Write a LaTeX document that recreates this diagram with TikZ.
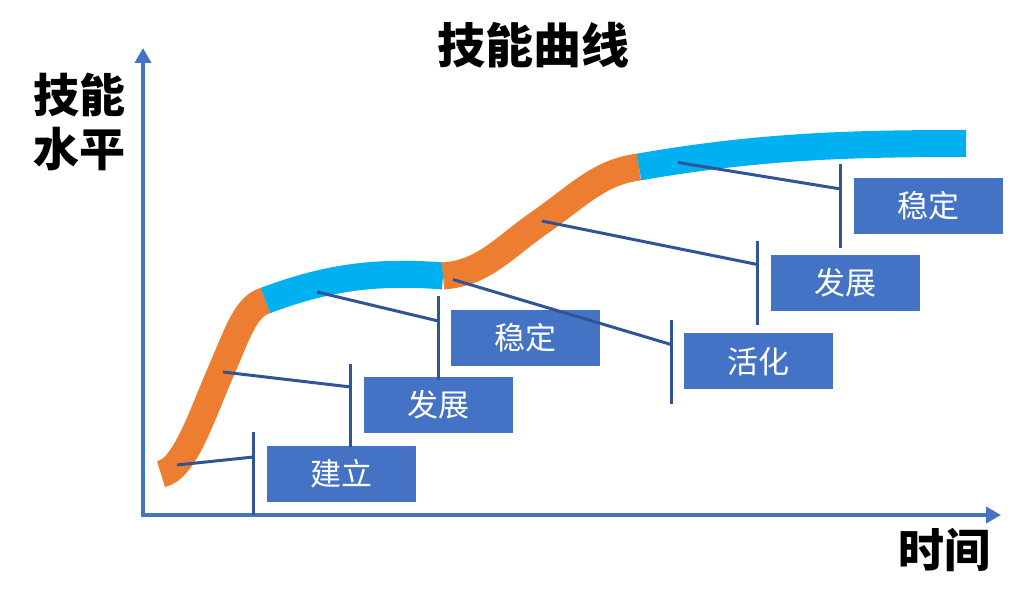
\documentclass[tikz,border=0pt]{standalone}
\usepackage{fontspec}
\newfontfamily\cjk{Noto Sans CJK SC}
\usetikzlibrary{arrows.meta}
\definecolor{axisblue}{HTML}{4472C4}
\definecolor{boxblue}{HTML}{4472C4}
\definecolor{leaderblue}{HTML}{2F5597}
\definecolor{curveorange}{HTML}{ED7D31}
\definecolor{curveblue}{HTML}{00B0F0}
\tikzset{
  axisline/.style={draw=axisblue, line width=4pt, -{Triangle[length=15pt,width=16pt]}},
  orangeseg/.style={draw=curveorange, line width=27pt, line cap=butt},
  blueseg/.style={draw=curveblue, line width=27pt, line cap=butt},
  leader/.style={draw=leaderblue, line width=3pt},
  stagebox/.style={fill=boxblue, draw=none, minimum width=149pt, minimum height=56pt, inner sep=0pt, text=white, font=\cjk\fontsize{31}{31}\selectfont},
  bigtext/.style={font=\cjk\bfseries\fontsize{46}{50}\selectfont, text=black, inner sep=0pt}
}
\begin{document}
\begin{tikzpicture}[x=1pt,y=-1pt]
\useasboundingbox[fill=white] (0,0) rectangle (1024,609);
% title and axis labels
\node[bigtext, font=\cjk\bfseries\fontsize{48}{50}\selectfont] (title) at (533,45) {技能曲线};
\node[bigtext, align=center] (ylab) at (79,122) {技能\\[4pt]水平};
\node[bigtext] (xlab) at (944,550) {时间};
% axes
\coordinate (origin) at (141,515);
\coordinate (ytip) at (143,48);
\coordinate (xtip) at (1001,515);
\draw[axisline] (143,517) -- (ytip);
\draw[axisline] (141,515) -- (xtip);
% curve
\coordinate (c0) at (161,474);
\coordinate (c1) at (265.5,300.5);
\coordinate (c2) at (443,276);
\coordinate (c3) at (639,167);
\coordinate (c4) at (966,143.5);
\draw[orangeseg] (c0) .. controls (185,470) and (203,412) .. (222,369) .. controls (238,332) and (246,306) .. (c1);
\draw[blueseg] (c1) .. controls (320,280) and (370,270) .. (c2);
\draw[orangeseg] (c2) .. controls (485,273) and (505,246) .. (542,221) .. controls (580,194) and (600,172) .. (c3);
\draw[blueseg] (c3) .. controls (760,146) and (850,143.5) .. (c4);
% boxes
\node[stagebox] (b1) at (341.5,473.5) {建立};
\node[stagebox] (b2) at (438.5,405) {发展};
\node[stagebox] (b3) at (525.5,338) {稳定};
\node[stagebox] (b4) at (758.8,361.3) {活化};
\node[stagebox] (b5) at (845.3,283) {发展};
\node[stagebox] (b6) at (928.5,206) {稳定};
% leader points on curve
\coordinate (p1) at (177,465);
\coordinate (p2) at (223,372);
\coordinate (p3) at (317,292);
\coordinate (p4) at (453,279.5);
\coordinate (p5) at (542,221);
\coordinate (p6) at (678,162.5);
% tick marks
\coordinate (t1a) at (253.5,432); \coordinate (t1b) at (253.5,515); \coordinate (t1m) at (253.5,457);
\coordinate (t2a) at (350.7,363.5); \coordinate (t2b) at (350.7,447); \coordinate (t2m) at (350.7,387);
\coordinate (t3a) at (438.3,296); \coordinate (t3b) at (438.3,379.5); \coordinate (t3m) at (438.3,321);
\coordinate (t4a) at (671,319.5); \coordinate (t4b) at (671,403.5); \coordinate (t4m) at (671,344.5);
\coordinate (t5a) at (757.3,241); \coordinate (t5b) at (757.3,325); \coordinate (t5m) at (757.3,264.5);
\coordinate (t6a) at (840.7,164.3); \coordinate (t6b) at (840.7,247.7); \coordinate (t6m) at (840.7,189);
\foreach \i in {1,...,6}{
  \draw[leader] (p\i) -- (t\i m);
  \draw[leader] (t\i a) -- (t\i b);
}
\end{tikzpicture}
\end{document}
